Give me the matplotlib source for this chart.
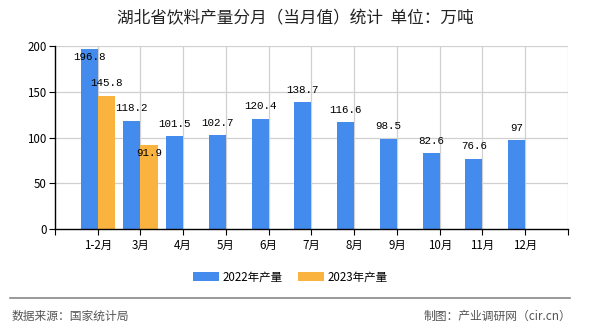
import matplotlib
matplotlib.use("Agg")
import matplotlib.pyplot as plt

plt.rcParams['font.family'] = ['Noto Sans CJK SC', 'DejaVu Sans']

# categories and values
months = ["1-2月", "3月", "4月", "5月", "6月", "7月", "8月", "9月", "10月", "11月", "12月"]
prod_2022 = [196.8, 118.2, 101.5, 102.7, 120.4, 138.7, 116.6, 98.5, 82.6, 76.6, 97]
prod_2023 = [145.8, 91.9]
y_ticks = [0, 50, 100, 150, 200]

blue = "#438bec"
orange = "#fbb33f"

fig = plt.figure(figsize=(5.9, 3.3), dpi=100)
ax = fig.add_axes([0.0932, 0.306, 0.8695, 0.5546])

x = list(range(1, len(months) + 1))
w = 0.4

b1 = ax.bar([i - w / 2 for i in x], prod_2022, width=w, color=blue, label="2022年产量", zorder=3)
b2 = ax.bar([i + w / 2 for i in x[:len(prod_2023)]], prod_2023, width=w, color=orange,
            label="2023年产量", zorder=3)


def put_label(rect, v, inside):
    cx = rect.get_x() + rect.get_width() / 2
    off = -6 if inside else 9
    ax.annotate(f"{v:g}", (cx, v), xytext=(0, off), textcoords="offset points",
                ha="center", va="center", fontsize=7.8, family="Liberation Mono",
                color="black", zorder=4)


# value labels; the ones that would collide end up just inside the bar top
for rect, v in zip(b1, prod_2022):
    put_label(rect, v, v > 185)
for k, (rect, v) in enumerate(zip(b2, prod_2023)):
    put_label(rect, v, prod_2022[k] - v < 30)

ax.set_xlim(0, 12)
ax.set_ylim(0, 200)
ax.set_yticks(y_ticks)
ax.set_xticks(range(0, 13))
ax.set_xticklabels([""] + months + [""], fontsize=8.3)
ax.tick_params(axis="y", labelsize=8.3, length=4, pad=2)
ax.tick_params(axis="x", length=4, pad=3)

for yv in y_ticks[1:]:
    ax.axhline(yv, color="#d0d0d0", lw=0.9, zorder=1)
for xv in range(1, 13):
    ax.axvline(xv, color="#d0d0d0", lw=0.9, zorder=1)

for s in ("top", "right"):
    ax.spines[s].set_visible(False)
for s in ("left", "bottom"):
    ax.spines[s].set_color("black")
    ax.spines[s].set_linewidth(1)
    ax.spines[s].set_zorder(5)

fig.text(0.5, 0.943, "湖北省饮料产量分月（当月值）统计  单位：万吨", ha="center", va="center",
         fontsize=12, color="#222222")

fig.legend(handles=[b1, b2], loc="center", bbox_to_anchor=(0.492, 0.16), ncol=2,
           frameon=False, fontsize=8.3, handlelength=2.2, handleheight=0.75,
           columnspacing=1.4, handletextpad=0.3)

# footer
fig.add_artist(plt.Line2D([0.017, 0.966], [0.097, 0.097], color="#888888", lw=1.2))
fig.text(0.02, 0.042, "数据来源：国家统计局", ha="left", va="center", fontsize=8.5, color="#555555")
fig.text(0.968, 0.042, "制图：产业调研网（cir.cn）", ha="right", va="center", fontsize=8.5, color="#555555")

fig.savefig("out.png", dpi=100)
